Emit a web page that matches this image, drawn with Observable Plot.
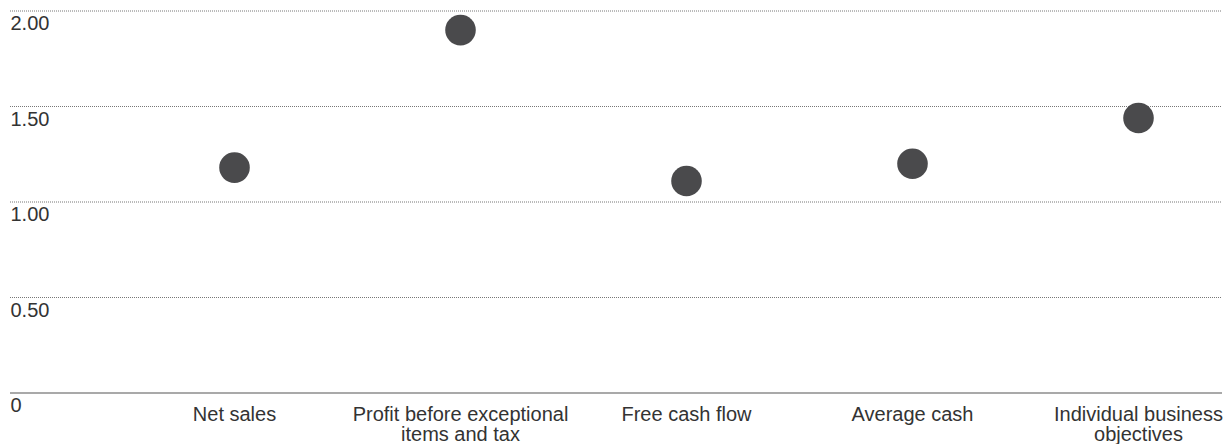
<!DOCTYPE html>
<html>
<head>
<meta charset="utf-8">
<script src="https://cdn.jsdelivr.net/npm/d3@7"></script>
<script src="https://cdn.jsdelivr.net/npm/@observablehq/plot@0.6"></script>
<style>
  html, body { margin: 0; padding: 0; background: #fff; }
  #chart svg { display: block; }
</style>
</head>
<body>
<div id="chart"></div>
<script>
const categories = ["Net sales", "Profit before exceptional items and tax", "Free cash flow", "Average cash", "Individual business objectives"];
const categoryLabels = ["Net sales", "Profit before exceptional\nitems and tax", "Free cash flow", "Average cash", "Individual business\nobjectives"];
const values = [1.18, 1.90, 1.11, 1.20, 1.44];
const yTicks = [0, 0.5, 1, 1.5, 2];
const yTickLabels = ["0", "0.50", "1.00", "1.50", "2.00"];

const data = categories.map((c, i) => ({category: c, value: values[i]}));
const ticks = yTicks.map((t, i) => ({t, label: yTickLabels[i]}));
const labelOf = new Map(categories.map((c, i) => [c, categoryLabels[i]]));

const chart = Plot.plot({
  width: 1227,
  height: 444,
  marginLeft: 10,
  marginRight: 5,
  marginTop: 10.5,
  marginBottom: 51.5,
  style: {fontFamily: "'Liberation Sans', Arial, Helvetica, sans-serif", fontSize: "20px", color: "#333", background: "#fff"},
  x: {type: "point", domain: categories, range: [233, 1139], padding: 0, axis: null},
  y: {domain: [0, 2], axis: null},
  marks: [
    Plot.ruleY(yTicks.filter(t => t > 0), {stroke: "#777", strokeWidth: 1, strokeDasharray: "1,1"}),
    Plot.ruleY([0], {stroke: "#555", strokeWidth: 1.2}),
    Plot.text(ticks, {y: "t", text: "label", frameAnchor: "left", textAnchor: "start", lineAnchor: "top", dy: 5, fill: "#333", fontSize: 20}),
    Plot.text(categories, {x: d => d, y: 0, text: d => labelOf.get(d), lineAnchor: "top", dy: 13, fill: "#333", fontSize: 20, lineHeight: 1.03}),
    Plot.dot(data, {x: "category", y: "value", r: 15.3, fill: "#4a4a4c", stroke: "none"})
  ]
});
document.getElementById("chart").appendChild(chart);
</script>
</body>
</html>
